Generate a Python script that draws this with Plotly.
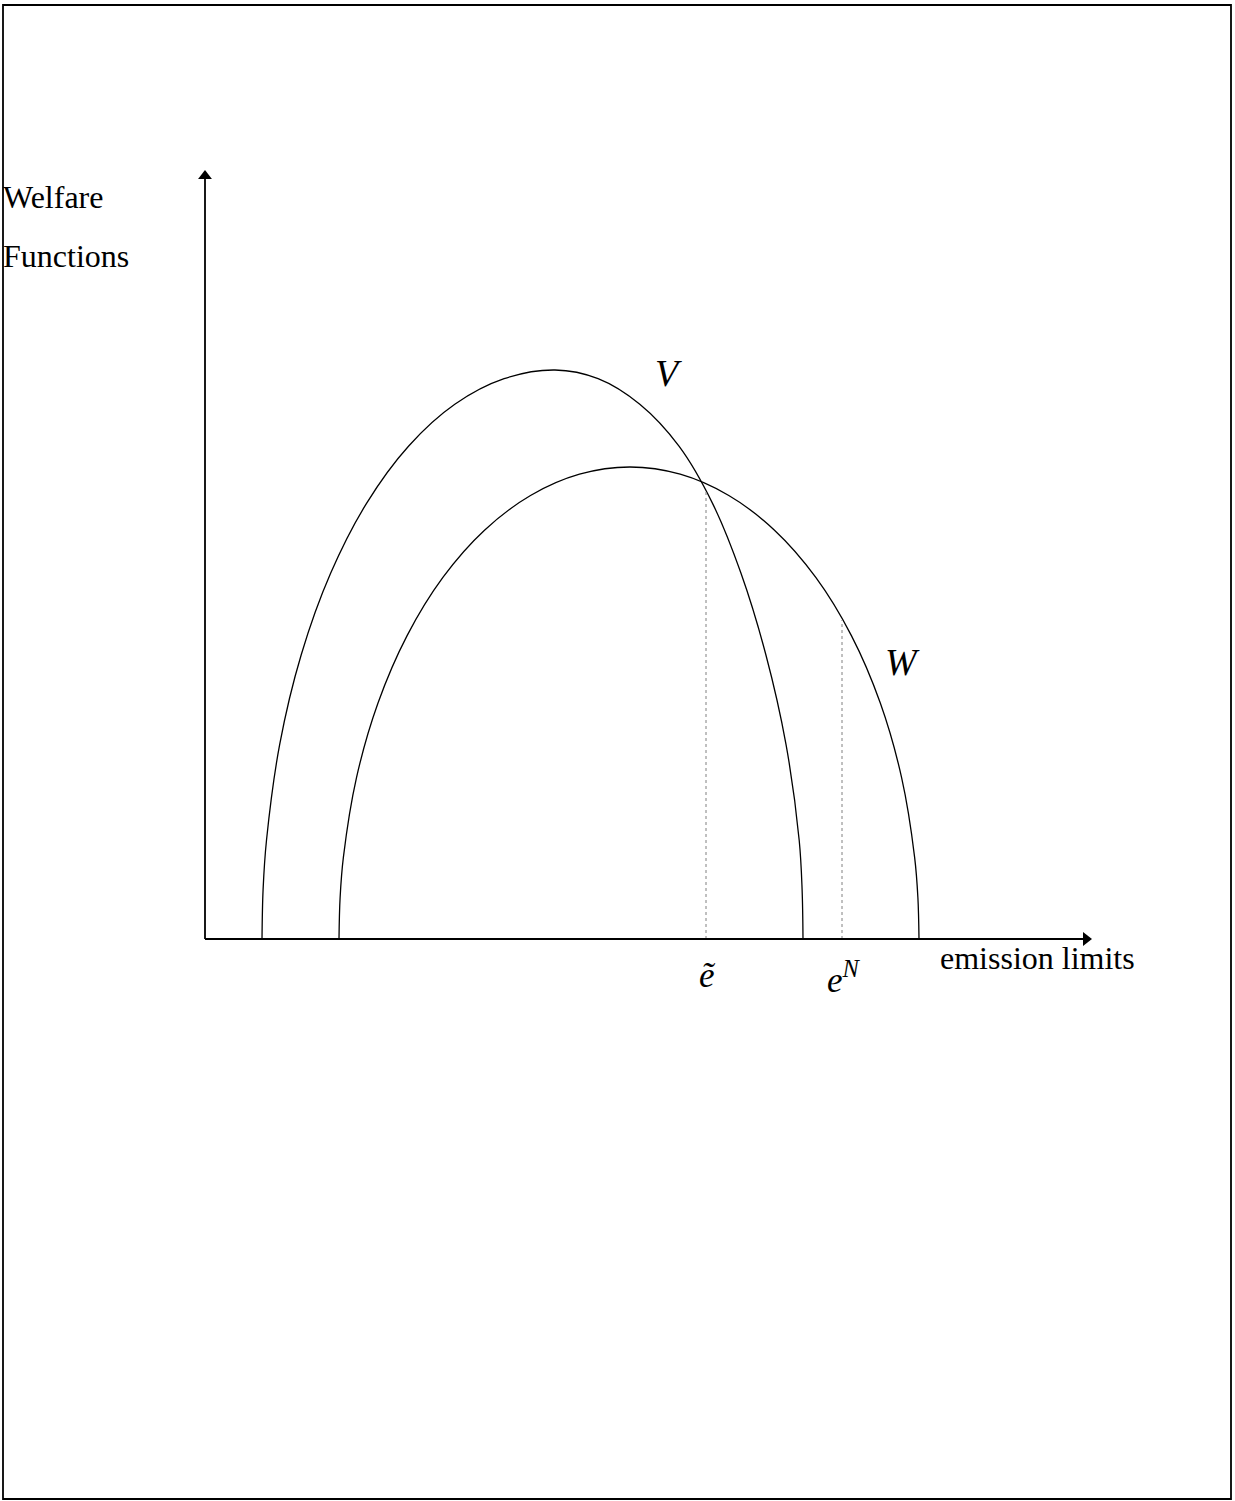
import plotly.graph_objects as go

# Emission (x) and welfare (y); origin at the axes' corner
v_x = [57, 58.1, 61.5, 74.7, 96.3, 125.6, 161.7, 203.5, 249.8, 299.1, 350,
       393.1, 434.8, 474, 507.4, 536, 560.8, 581, 594.2, 597.1, 598]
v_y = [0, 49.6, 98.8, 194.6, 284.5, 365.7, 435.9, 492.8, 534.7, 560.3, 569,
       560.3, 534.7, 492.8, 435.9, 365.7, 284.5, 194.6, 98.8, 49.6, 0]

w_x = [134, 135.1, 138.4, 151.5, 173, 202.1, 237.9, 279.5, 325.5, 374.5, 425,
       475.2, 523.8, 569.5, 610.8, 646.4, 675.3, 696.6, 709.6, 712.9, 714]
w_y = [0, 41.2, 81.9, 161.4, 236, 303.4, 361.6, 408.8, 443.5, 464.8, 472,
       464.8, 443.5, 408.8, 361.6, 303.4, 236, 161.4, 81.9, 41.2, 0]

e_tilde = 501        # emission level where V and W cross
e_tilde_top = 450
e_nash = 637         # emission level e^N
e_nash_top = 319

axis_x_end = 887
axis_y_end = 769

fig = go.Figure()

curve = dict(color="black", width=1.3, shape="spline", smoothing=1.0)
fig.add_trace(go.Scatter(x=v_x, y=v_y, mode="lines", line=curve, hoverinfo="skip", showlegend=False))
fig.add_trace(go.Scatter(x=w_x, y=w_y, mode="lines", line=curve, hoverinfo="skip", showlegend=False))

# dotted drop lines
dot = dict(color="#808080", width=1, dash="dot")
fig.add_trace(go.Scatter(x=[e_tilde, e_tilde], y=[0, e_tilde_top], mode="lines", line=dot,
                         hoverinfo="skip", showlegend=False))
fig.add_trace(go.Scatter(x=[e_nash, e_nash], y=[0, e_nash_top], mode="lines", line=dot,
                         hoverinfo="skip", showlegend=False))

# axes
axis_line = dict(color="black", width=1.8)
fig.add_trace(go.Scatter(x=[0, 0], y=[0, axis_y_end - 8], mode="lines", line=axis_line,
                         hoverinfo="skip", showlegend=False))
fig.add_trace(go.Scatter(x=[0, axis_x_end - 8], y=[0, 0], mode="lines", line=axis_line,
                         hoverinfo="skip", showlegend=False))
fig.add_trace(go.Scatter(x=[0], y=[axis_y_end - 6], mode="markers",
                         marker=dict(symbol="triangle-up", size=12, color="black"),
                         hoverinfo="skip", showlegend=False))
fig.add_trace(go.Scatter(x=[axis_x_end - 6], y=[0], mode="markers",
                         marker=dict(symbol="triangle-right", size=12, color="black"),
                         hoverinfo="skip", showlegend=False))

serif = "Liberation Serif"
txt = dict(family=serif, size=32, color="black")
big = dict(family=serif, size=38, color="black")
mid = dict(family=serif, size=35, color="black")

fig.add_annotation(x=-204, y=742, text="Welfare", showarrow=False, xanchor="left", yanchor="middle", font=txt)
fig.add_annotation(x=-204, y=683, text="Functions", showarrow=False, xanchor="left", yanchor="middle", font=txt)
fig.add_annotation(x=463, y=566, text="<i>V</i>", showarrow=False, xanchor="center", yanchor="middle", font=big)
fig.add_annotation(x=697, y=277, text="<i>W</i>", showarrow=False, xanchor="center", yanchor="middle", font=big)
fig.add_annotation(x=e_tilde + 1, y=-36, text="<i>ẽ</i>", showarrow=False, xanchor="center", yanchor="middle", font=mid)
fig.add_annotation(x=e_nash + 2, y=-38, text="<i>e<sup>N</sup></i>", showarrow=False, xanchor="center", yanchor="middle", font=mid)
fig.add_annotation(x=733, y=-19, text="emission limits", showarrow=False, xanchor="left", yanchor="middle", font=txt)

# frame
fig.add_shape(type="rect", x0=-202, x1=1026, y0=-560, y1=934, xref="x", yref="y",
              line=dict(color="black", width=1.8))

fig.update_layout(
    width=1235, height=1501,
    margin=dict(l=0, r=0, t=0, b=0),
    paper_bgcolor="white", plot_bgcolor="white",
    xaxis=dict(range=[-205, 1030], visible=False, fixedrange=True),
    yaxis=dict(range=[-562, 939], visible=False, fixedrange=True),
    showlegend=False,
)

fig.write_html("out.html", config={"displayModeBar": False},
               post_script="document.body.style.margin='0';document.body.style.overflow='hidden';")
